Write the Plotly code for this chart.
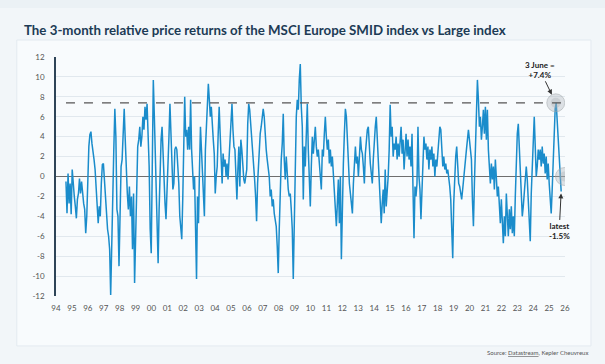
import plotly.graph_objects as go
import pandas as pd

# ---------------- data ----------------
seg_a_span = ("1994-08-18", "2000-05-19")
seg_a = [-0.5,-3.7,0.3,-2.7,-0.7,-3.8,0.7,-1.3,-2,-3,-4.2,-2.3,-1.7,-0.2,-1.7,-0.5,-2,-2.7,-3.3,-5.7,
         -4,0,3,4.2,4.5,3.3,2.7,1.7,0.7,-1.3,-3,-4.7,-3,-4,-0.7,1.2,1.3,-0.7,-1.7,-4,
         -5.3,-6,-7.3,-11.9,-6,-1.3,2.7,6.8,4,-3.3,-4,-9,-2,1,1.7,4.3,6.8,3.7,0,-1.7,
         -3.3,-1,-4,-2,-7.3,-1.7,-10.7,-7,-1.7,3,3.7,5,3,4,6,4.7,7,5.7,7.3,4.3,
         1,-5.3,-7.7,1,9.7,6,1,-1.7,-8]

seg_b_span = ("2000-06-03", "2006-10-19")
seg_b = [-8.7,-3.3,2.3,3.7,5,1.7,-1.3,-2.7,-4.3,-2,1,4,7.3,4,1.7,-1.3,-0.7,2.7,3,2.7,
         1,-0.7,-4,-5,-6.3,-2.3,4,8,4,4.7,2.7,5,2.7,7.7,2.7,0.7,-1.3,0,-4,-10.3,
         -2,-4.7,0.7,5,2.7,0,-2,-4,2.7,5,7.3,9.3,7.7,6,7,4.7,3.7,2.3,-1.7,0,
         1,4.3,7,4.3,1.7,-0.7,2.3,1,1.7,0,1.3,-0.3,1.7,3.7,5.3,7.3,4.7,3,2.7,0,
         -2.3,0.7,3,-1,3.7,2.7,1,-0.3,-0.7,0,0.7,5.3,7.3,6.7,5.3,4,3.3,1.3,-0.3,-2,
         -4.5,-0.7,1.7,4.3]

seg_c_span = ("2006-11-03", "2013-03-15")
seg_c = [4.3,5,6.3,6.8,6,4,2.7,1.7,0.7,0,-2,-1.3,-3,-2.3,-3.7,-4.3,-5,-7,-9.7,-5.3,
         -0.7,1.7,3.3,6.3,1.7,-0.3,2,-0.3,-1.3,-2,-1.7,-3.3,-5.3,-10.3,-4,3.7,6,7.7,6.7,9.7,
         11.3,7,5,-2.3,3,1,6,7.3,2.7,-0.7,-3,1,4,2.3,3.3,5,3,2,2.7,1,
         0,-1.3,2.7,2,4.3,6,4,2.7,3.7,1.3,2.7,1,2,0,-0.7,-3,-5,-2.7,-0.3,-4.7,
         0,-8.3,-1.3,1.3,4.3,6.8,6,3.3,0.7,-0.7,-1.7,-3,-3.7,-0.7,1.7,3,1.3,2,0,2.7,
         4,2.7]

seg_d_span = ("2013-04-06", "2019-07-27")
seg_d = [2.3,1,-0.7,2.3,4,4.7,5,2.7,1.3,0.3,-0.7,1.7,3.7,5,6,3.7,0.7,-1.7,-3,-4.7,
         -2.7,-1.3,-3.7,0.7,-3,-1.7,0,2.7,7.2,4,5,2,3.3,2.7,4,1.7,3.3,2,4.3,5,
         2.3,3.7,0.7,2.7,4.3,2,3.7,1.7,3,1,4.3,-1.3,-6.2,-1,-2,-0.7,5,0,-1.3,-4.3,
         -1.3,2,4,2.7,3.3,1.7,3,0.7,2.7,1.7,3,1,2.3,0,1.7,1,2.7,3.7,5,4.7,
         2.7,1,2,0.7,1.3,0.3,0.7,0,-1,-2.3,-5.3,-8.2,-2.7,0.3,2,3,0.7,-0.7,-1,-1.7,
         -2.3,-1.3]

seg_e_span = ("2019-09-06", "2025-10-05")
seg_e = [1,2,2.7,3.7,4.7,3.7,2.7,1.7,-2.3,-5,-0.7,2.7,7,9.7,7.7,5,6,3.7,5,6.7,
         4.3,7,3.7,6.7,2.7,1,-0.7,1.3,-0.3,1,-1.3,1.7,-0.7,-2,-1,-3,-4.7,-2.3,-5.3,-6.7,
         -4,-6,-1.7,-4,-6,-3.3,-5.3,-3,-5.7,-4,-6,-2,1.7,4.3,5.3,2.7,0,-2.7,-4,-3,
         -1.7,0,1,-0.3,-2.3,-4,-6.5,-1.7,1.7,4.3,6,3,0,1,2.7,1.7,2.7,1,3,1.3,
         2.3,0.3,2,-0.3,1.3,-0.7,-2,-3.7,-1.3,1.7,5,6.8,7.4,5.7,4,2,0.3,-1.5]

peak_date, peak_value = "2025-06-03", 7.4
latest_date, latest_value = "2025-10-05", -1.5

year_ticks = [f"{y}-01-01" for y in range(1994, 2027)]
year_labels = [f"{y % 100:02d}" for y in range(1994, 2027)]
y_ticks = list(range(-12, 13, 2))
y_labels = [str(v) for v in y_ticks]

# ---------------- build series ----------------
xs, ys = [], []
for span, vals in [(seg_a_span, seg_a), (seg_b_span, seg_b), (seg_c_span, seg_c),
                   (seg_d_span, seg_d), (seg_e_span, seg_e)]:
    d = pd.date_range(span[0], span[1], periods=len(vals))
    xs.extend(d)
    ys.extend(vals)

fig = go.Figure()

# top band and panel background
fig.add_shape(type="rect", xref="paper", yref="paper", x0=-0.2, x1=1.2, y0=1.205, y1=1.3,
              fillcolor="#ebf1f5", line=dict(width=0), layer="below")
fig.add_shape(type="rect", xref="paper", yref="paper", x0=-0.077, x1=1.051, y0=-0.209, y1=1.071,
              fillcolor="#f8fbfd", line=dict(color="#e3eaf0", width=1), layer="below")

fig.add_trace(go.Scatter(x=xs, y=ys, mode="lines",
                         line=dict(color="#1a8ccb", width=1.5), hoverinfo="skip", showlegend=False))

# dashed reference at the 3 June level
fig.add_shape(type="line", xref="x", yref="y", x0=xs[0], x1=latest_date, y0=peak_value, y1=peak_value,
              line=dict(color="#555555", width=1.2, dash="dash"))

# highlight circles
fig.add_trace(go.Scatter(x=[peak_date, "2025-12-20"], y=[peak_value, 0], mode="markers",
                         marker=dict(size=18, color="rgba(170,175,180,0.35)",
                                     line=dict(color="rgba(160,165,170,0.5)", width=1)),
                         hoverinfo="skip", showlegend=False))
fig.add_trace(go.Scatter(x=[peak_date, "2025-12-20"], y=[peak_value, 0], mode="markers",
                         marker=dict(size=10, color="rgba(170,175,180,0.35)"),
                         hoverinfo="skip", showlegend=False))

fig.add_annotation(x=peak_date, y=peak_value, xref="x", yref="y",
                   text="<b>3 June =<br>+7.4%</b>", showarrow=True, arrowhead=2, arrowsize=1,
                   arrowwidth=1, arrowcolor="#333", ax=-16, ay=-33, standoff=9,
                   font=dict(family="Lato", size=8, color="#222"), align="center")
fig.add_annotation(x=latest_date, y=latest_value, xref="x", yref="y",
                   text="<b>latest<br>-1.5%</b>", showarrow=True, arrowhead=2, arrowsize=1,
                   arrowwidth=1, arrowcolor="#333", ax=-2, ay=40, standoff=2,
                   font=dict(family="Lato", size=8, color="#222"), align="center")

fig.add_annotation(xref="paper", yref="paper", x=1.05, y=-0.238, xanchor="right", yanchor="middle",
                   text="Source: <u>Datastream</u>, Kepler Cheuvreux", showarrow=False,
                   font=dict(family="Lato", size=6, color="#555"))

fig.update_layout(
    width=605, height=364,
    margin=dict(l=56, r=40, t=57, b=68),
    paper_bgcolor="#f2f6f9", plot_bgcolor="rgba(0,0,0,0)",
    title=dict(text="<b>The 3-month relative price returns of the MSCI Europe SMID index vs Large index</b>",
               x=24/605, xanchor="left", xref="container", y=1-30/364, yref="container", yanchor="middle",
               font=dict(family="Lato", size=13.3, color="#1c3b55")),
    xaxis=dict(type="date", range=["1994-01-01", "2026-01-01"], tickvals=year_ticks, ticktext=year_labels,
               showgrid=False, showline=False, zeroline=False, ticks="",
               tickfont=dict(family="Lato", size=8, color="#555"), ticklabelstandoff=6),
    yaxis=dict(range=[-12, 12], tickvals=y_ticks, ticktext=y_labels,
               showgrid=True, gridcolor="#e1e8ee", gridwidth=1,
               zeroline=True, zerolinecolor="#6e6e6e", zerolinewidth=1.3,
               showline=True, linecolor="#2e4457", linewidth=1.5, ticks="",
               tickfont=dict(family="Lato", size=8, color="#555"), ticklabelstandoff=8),
)

fig.write_html("out.html", config={"displayModeBar": False},
               post_script="document.body.style.margin='0';")
